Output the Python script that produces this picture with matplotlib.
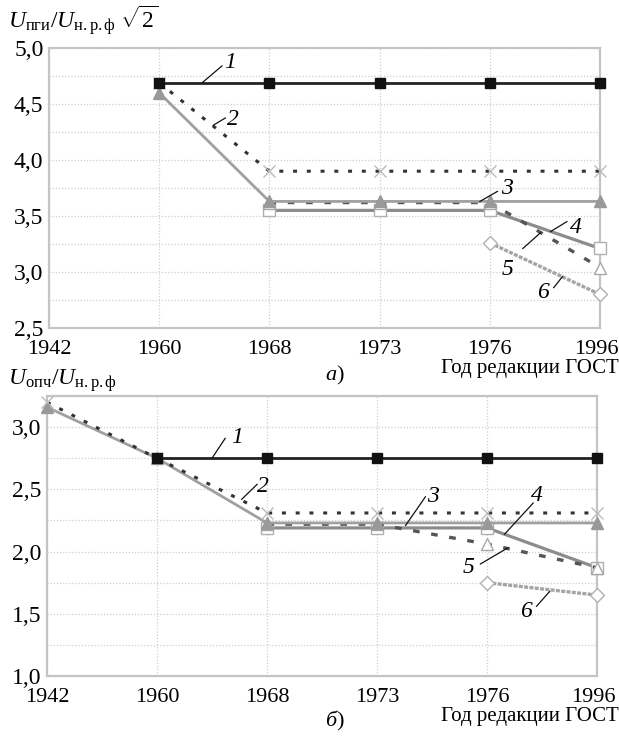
import numpy as np
import matplotlib
matplotlib.use('Agg')
import matplotlib.pyplot as plt
import matplotlib.transforms as mtransforms
from matplotlib.ticker import FuncFormatter, MultipleLocator

plt.rcParams['font.family'] = ['Liberation Serif', 'DejaVu Serif']
plt.rcParams['mathtext.fontset'] = 'custom'
plt.rcParams['mathtext.rm'] = 'Liberation Serif'
plt.rcParams['mathtext.it'] = 'Liberation Serif:italic'

# годы редакции ГОСТ (равномерная шкала)
years = ['1942', '1960', '1968', '1973', '1976', '1996']
nan = np.nan

# а) импульсные испытательные напряжения
top_1 = [nan, 4.69, 4.69, 4.69, 4.69, 4.69]
top_2 = [nan, 4.69, 3.90, 3.90, 3.90, 3.90]
top_3 = [nan, 4.60, 3.63, 3.63, 3.63, 3.63]
top_4 = [nan, nan, 3.55, 3.55, 3.55, 3.21]
top_5 = [nan, nan, 3.62, 3.62, 3.62, 3.04]
top_6 = [nan, nan, nan, nan, 3.26, 2.80]

# б) одноминутные напряжения промышленной частоты
bot_1 = [nan, 2.75, 2.75, 2.75, 2.75, 2.75]
bot_2 = [3.20, 2.75, 2.31, 2.31, 2.31, 2.31]
bot_3 = [3.16, 2.75, 2.23, 2.23, 2.23, 2.23]
bot_4 = [nan, nan, 2.19, 2.19, 2.19, 1.87]
bot_5 = [nan, nan, 2.22, 2.22, 2.06, 1.87]
bot_6 = [nan, nan, nan, nan, 1.75, 1.65]

# подписи кривых: (номер, позиция текста, начало и конец выноски)
top_labels = [
    ('1', (1.64, 4.87), (1.39, 4.69), (1.57, 4.84)),
    ('2', (1.67, 4.36), (1.49, 4.31), (1.60, 4.375)),
    ('3', (4.16, 3.75), (3.91, 3.63), (4.07, 3.72)),
    ('4', (4.78, 3.40), (4.55, 3.36), (4.70, 3.45)),
    ('5', (4.16, 3.02), (4.30, 3.21), (4.46, 3.35)),
    ('6', (4.48, 2.82), (4.58, 2.86), (4.66, 2.96)),
]
bot_labels = [
    ('1', (1.73, 2.92), (1.50, 2.75), (1.62, 2.91)),
    ('2', (1.96, 2.52), (1.77, 2.42), (1.91, 2.54)),
    ('3', (3.51, 2.44), (3.26, 2.21), (3.44, 2.44)),
    ('4', (4.45, 2.45), (4.16, 2.14), (4.42, 2.39)),
    ('5', (3.83, 1.87), (3.94, 1.90), (4.19, 2.03)),
    ('6', (4.35, 1.52), (4.45, 1.56), (4.57, 1.68)),
]


def draw(ax, s1, s2, s3, s4, s5, s6):
    x = np.arange(len(years))
    # 6 - ромбы, светлая "зернистая" линия
    ax.plot(x, s6, color='#a4a4a4', lw=2.4, ls=(0, (1.2, 0.4)), marker='D', ms=7,
            mfc='white', mec='#b0b0b0', mew=1.0, clip_on=False, zorder=3)
    # 4 - сплошная серая, пустые квадраты
    ax.plot(x, s4, color='#8c8c8c', lw=2.3, marker='s', ms=8,
            mfc='white', mec='#b0b0b0', mew=1.0, clip_on=False, zorder=3)
    # 5 - штриховая, пустые треугольники
    ax.plot(x, s5, color='#555555', lw=2.4, ls=(0, (2, 3.5)), marker='^', ms=9,
            mfc='white', mec='#a8a8a8', mew=1.0, clip_on=False, zorder=4)
    # 3 - серая сплошная, закрашенные треугольники
    ax.plot(x, s3, color='#a0a0a0', lw=2.0, marker='^', ms=9,
            mfc='#999999', mec='#999999', clip_on=False, zorder=4)
    # 2 - пунктир, крестики
    ax.plot(x, s2, color='#333333', lw=2.2, ls=(0, (1.3, 3.2)), clip_on=False, zorder=5)
    ax.plot(x, s2, ls='none', marker='x', ms=9, mew=1.0, mec='#bbbbbb',
            clip_on=False, zorder=5)
    # 1 - чёрная сплошная, чёрные квадраты
    ax.plot(x, s1, color='#222222', lw=2.0, marker='s', ms=7,
            mfc='#111111', mec='#111111', clip_on=False, zorder=6)

    ax.set_xlim(0, len(years) - 1)
    ax.set_xticks(x)
    ax.set_xticklabels(years)
    ax.yaxis.set_major_locator(MultipleLocator(0.5))
    ax.yaxis.set_minor_locator(MultipleLocator(0.25))
    ax.yaxis.set_major_formatter(FuncFormatter(lambda v, p: f'{v:.1f}'.replace('.', ',')))
    ax.grid(True, which='both', ls=(0, (1, 1.5)), color='#cfcfcf', lw=0.9)
    ax.set_axisbelow(True)
    ax.tick_params(which='both', length=0, pad=4)
    ax.tick_params(axis='y', labelsize=17)
    ax.tick_params(axis='x', labelsize=16, pad=9)
    for sp in ax.spines.values():
        sp.set_color('#c4c4c4')
        sp.set_linewidth(1.6)

    # последний год чуть левее, чтобы не выходил за край
    last = ax.get_xticklabels()[-1]
    shift = mtransforms.ScaledTranslation(-4 / 100, 0, fig.dpi_scale_trans)
    last.set_transform(last.get_transform() + shift)


def annotate(ax, labels):
    for num, (tx, ty), (x0, y0), (x1, y1) in labels:
        ax.plot([x0, x1], [y0, y1], color='#111111', lw=0.9, zorder=7)
        ax.text(tx, ty, num, fontsize=17, style='italic', ha='center', va='center', zorder=8)


fig = plt.figure(figsize=(6.19, 7.40), dpi=100)
W, H = 619, 740

ax1 = fig.add_axes([49 / W, 1 - 328 / H, 551 / W, 280 / H])
draw(ax1, top_1, top_2, top_3, top_4, top_5, top_6)
ax1.set_ylim(2.5, 5.0)
annotate(ax1, top_labels)

ax2 = fig.add_axes([47 / W, 1 - 676 / H, 550 / W, 280 / H])
draw(ax2, bot_1, bot_2, bot_3, bot_4, bot_5, bot_6)
ax2.set_ylim(1.0, 3.25)
annotate(ax2, bot_labels)

fig.text(8 / W, 1 - 21 / H, r'$U_{\mathrm{пги}}/U_{\mathrm{н.р.ф}}\ \sqrt{2}$', fontsize=17,
         ha='left', va='center')
fig.text(8 / W, 1 - 381 / H, r'$U_{\mathrm{опч}}/U_{\mathrm{н.р.ф}}$', fontsize=17,
         ha='left', va='center')
fig.text(619 / W, 1 - 369 / H, 'Год редакции ГОСТ', fontsize=15, ha='right', va='center')
fig.text(619 / W, 1 - 717 / H, 'Год редакции ГОСТ', fontsize=15, ha='right', va='center')
fig.text(336 / W, 1 - 376 / H, 'а', fontsize=16, style='italic', ha='right', va='center')
fig.text(336 / W, 1 - 376 / H, ')', fontsize=16, ha='left', va='center')
fig.text(336 / W, 1 - 722 / H, 'б', fontsize=16, style='italic', ha='right', va='center')
fig.text(336 / W, 1 - 722 / H, ')', fontsize=16, ha='left', va='center')

fig.savefig('out.png', dpi=100)
